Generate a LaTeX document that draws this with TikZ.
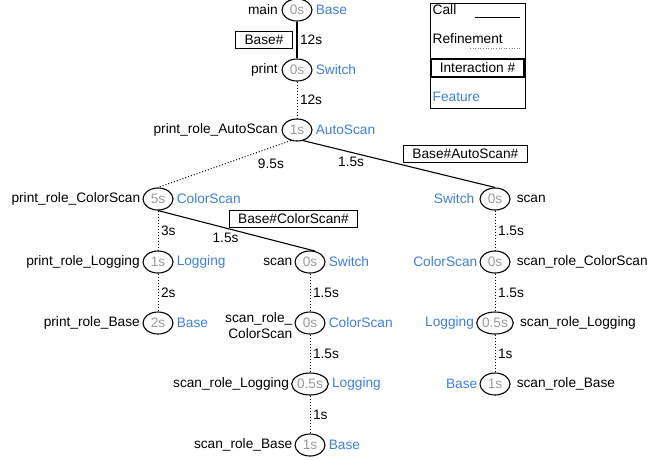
\documentclass[tikz,border=0pt]{standalone}
\usepackage{fontspec}
\setmainfont{Liberation Sans}
\usetikzlibrary{positioning, shapes.geometric}
\definecolor{featblue}{HTML}{3D7FD9}
\definecolor{timegray}{HTML}{9A9A9A}

\begin{document}
\begin{tikzpicture}[x=1pt, y=-1pt,
    every node/.style={font=\fontsize{13.7}{16}\selectfont},
    method/.style={draw, ellipse, line width=1.1pt, minimum width=30pt,
                   minimum height=22pt, inner sep=0pt, text=timegray},
    feat/.style={text=featblue, inner sep=1.5pt},
    mname/.style={inner sep=1.5pt, align=right},
    dur/.style={inner sep=1.5pt},
    call/.style={line width=1.1pt},
    refine/.style={dotted, line width=1pt},
    inter/.style={draw, line width=1.1pt, inner xsep=9pt, inner ysep=2pt, minimum height=17pt}]

    \useasboundingbox (0,0) rectangle (663,459);

    % methods of the print branch
    \node[method] (main) at (297,10) {0s};
    \node[method] (print) at (297,70) {0s};
    \node[method] (pras) at (297,130) {1s};
    \node[method] (prcs) at (158,199) {5s};
    \node[method] (prlog) at (158,262) {1s};
    \node[method] (prbase) at (158,323) {2s};

    % scan called from ColorScan
    \node[method] (scanA) at (310,262) {0s};
    \node[method] (scanAcs) at (310,323) {0s};
    \node[method] (scanAlog) at (310,384) {0.5s};
    \node[method] (scanAbase) at (310,445) {1s};

    % scan called from AutoScan
    \node[method] (scanB) at (495,199) {0s};
    \node[method] (scanBcs) at (495,262) {0s};
    \node[method] (scanBlog) at (495,323) {0.5s};
    \node[method] (scanBbase) at (495,384) {1s};

    % method names and features
    \node[mname, left=2pt of main] {main};
    \node[feat, right=1.5pt of main] {Base};
    \node[mname, left=2pt of print] {print};
    \node[feat, right=1.5pt of print] {Switch};
    \node[mname, left=2pt of pras] {print\_role\_AutoScan};
    \node[feat, right=1.5pt of pras] {AutoScan};
    \node[mname, left=0.5pt of prcs] {print\_role\_ColorScan};
    \node[feat, right=1.5pt of prcs] {ColorScan};
    \node[mname, left=1pt of prlog] {print\_role\_Logging};
    \node[feat, right=1.5pt of prlog] {Logging};
    \node[mname, left=1pt of prbase] {print\_role\_Base};
    \node[feat, right=1.5pt of prbase] {Base};

    \node[mname, left=0.5pt of scanA] {scan};
    \node[feat, right=1.5pt of scanA] {Switch};
    \node[mname, left=0.5pt of scanAcs, yshift=-3pt] {scan\_role\_\\ColorScan};
    \node[feat, right=1.5pt of scanAcs] {ColorScan};
    \node[mname, left=0.5pt of scanAlog] {scan\_role\_Logging};
    \node[feat, right=1.5pt of scanAlog] {Logging};
    \node[mname, left=0.5pt of scanAbase] {scan\_role\_Base};
    \node[feat, right=1.5pt of scanAbase] {Base};

    \node[feat, left=3.5pt of scanB] {Switch};
    \node[mname, right=4.5pt of scanB] {scan};
    \node[feat, left=0.5pt of scanBcs] {ColorScan};
    \node[mname, right=4.5pt of scanBcs] {scan\_role\_ColorScan};
    \node[feat, left=0.5pt of scanBlog] {Logging};
    \node[mname, right=4.5pt of scanBlog] {scan\_role\_Logging};
    \node[feat, left=0.5pt of scanBbase] {Base};
    \node[mname, right=4.5pt of scanBbase] {scan\_role\_Base};

    % calls and refinements
    \draw[call] (main) -- node[dur, right=1pt] {12s}
        node[inter, left=4pt] {Base\#} (print);
    \draw[refine] (print) -- node[dur, right=1pt] {12s} (pras);
    \draw[refine] (pras.240) -- node[dur, pos=0.15, below=9pt] {9.5s} (prcs.north);
    \draw[call] (pras.300) -- node[dur, pos=0.25, below=3pt] {1.5s}
        node[inter, pos=0.52, anchor=south west, yshift=2pt] {Base\#AutoScan\#} (scanB.north);
    \draw[call] (prcs.south) -- node[dur, pos=0.43, below=3pt] {1.5s}
        node[inter, pos=0.45, anchor=south west, yshift=1pt] {Base\#ColorScan\#} (scanA.65);
    \draw[refine] (prcs) -- node[dur, right=1pt] {3s} (prlog);
    \draw[refine] (prlog) -- node[dur, right=1pt] {2s} (prbase);
    \draw[refine] (scanA) -- node[dur, right=1pt] {1.5s} (scanAcs);
    \draw[refine] (scanAcs) -- node[dur, right=1pt] {1.5s} (scanAlog);
    \draw[refine] (scanAlog) -- node[dur, right=1pt] {1s} (scanAbase);
    \draw[refine] (scanB) -- node[dur, right=1pt] {1.5s} (scanBcs);
    \draw[refine] (scanBcs) -- node[dur, right=1pt] {1.5s} (scanBlog);
    \draw[refine] (scanBlog) -- node[dur, right=1pt] {1s} (scanBbase);

    % legend
    \node[draw, line width=0.9pt, minimum width=95pt, minimum height=105pt] (legend) at (477.5,55.5) {};
    \node[mname, anchor=west] (lcall) at (431,10) {Call};
    \coordinate (callA) at (475,17);
    \coordinate (callB) at (520,17);
    \draw[line width=0.9pt] (callA) -- (callB);
    \node[mname, anchor=west] (lrefine) at (431,39) {Refinement};
    \coordinate (refA) at (470,48);
    \coordinate (refB) at (520,48);
    \draw[dotted, gray, line width=0.6pt] (refA) -- (refB);
    \node[inter, inner xsep=2pt, minimum width=93pt, minimum height=18pt] (linter) at (477.5,68) {Interaction \#};
    \node[feat, anchor=west] (lfeat) at (431,97) {Feature};
\end{tikzpicture}
\end{document}
